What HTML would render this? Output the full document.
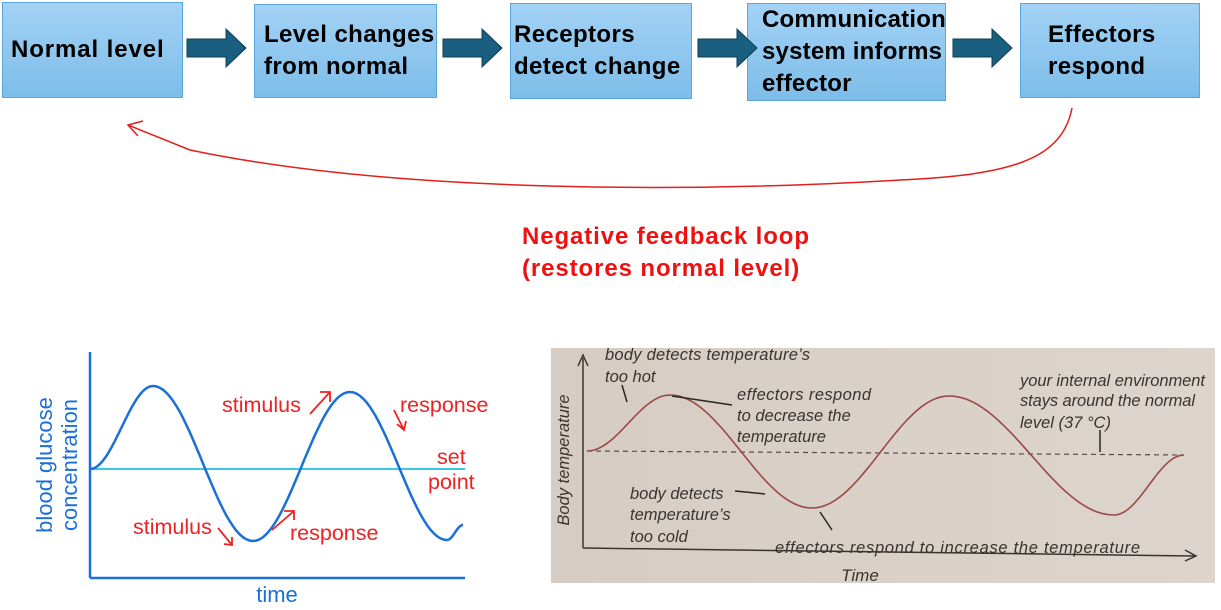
<!DOCTYPE html>
<html><head><meta charset="utf-8"><style>
body{margin:0;width:1221px;height:610px;background:#fff;overflow:hidden;position:relative;font-family:"Liberation Sans",sans-serif}
.box{position:absolute;box-sizing:border-box;border:1.5px solid #5aa7dc;background:linear-gradient(#a3d2f5,#7dbde9);font-weight:bold;font-size:24px;letter-spacing:0.4px;color:#000;line-height:32px;display:flex;align-items:center;padding-left:8px;white-space:nowrap}
svg{position:absolute;left:0;top:0}
</style></head><body>
<div class="box" style="left:2px;top:2px;width:181px;height:96px;letter-spacing:0.9px">Normal level</div>
<div class="box" style="left:254px;top:4px;width:183px;height:94px;padding-left:9px">Level changes<br>from normal</div>
<div class="box" style="left:510px;top:3px;width:182px;height:96px;padding-left:3px">Receptors<br>detect change</div>
<div class="box" style="left:747px;top:3px;width:199px;height:98px;padding-left:14px;letter-spacing:0.2px">Communication<br>system informs<br>effector</div>
<div class="box" style="left:1020px;top:3px;width:180px;height:95px;padding-left:27px">Effectors<br>respond</div>

<svg width="1221" height="610">
<g fill="#1a5f80" stroke="#0e3c52" stroke-width="1">
<polygon points="187,39 226,39 226,29 246,48 226,67 226,57 187,57"/>
<polygon points="443,39 482,39 482,29 502,48 482,67 482,57 443,57"/>
<polygon points="698,39 737,39 737,29 757,48 737,67 737,57 698,57"/>
<polygon points="953,39 992,39 992,29 1012,48 992,67 992,57 953,57"/>
</g>
<path d="M1072,108 C1062,160 1010,175 900,180 C700,192 400,194 190,150 L128,125" fill="none" stroke="#e0201c" stroke-width="1.5"/>
<path d="M143,121 L128,125 L138,136" fill="none" stroke="#e0201c" stroke-width="1.5"/>
<text x="522" y="244" font-size="24" letter-spacing="0.9" font-weight="bold" fill="#ee1111">Negative feedback loop</text>
<text x="522" y="276" font-size="24" letter-spacing="0.9" font-weight="bold" fill="#ee1111">(restores normal level)</text>

<g id="left"></g>
<defs><linearGradient id="bg" x1="0" x2="1"><stop offset="0" stop-color="#d6ccc3"/><stop offset="1" stop-color="#ddd5cd"/></linearGradient></defs>
<rect x="551" y="348" width="664" height="235" fill="url(#bg)"/>
<g id="right"></g>
</svg>
<script>
// Left chart data (blood glucose, relative to set point)
const glucoseTimes=[0,63,163,260,357,373];
const glucoseValues=[0,83,-72,77,-71,-56];
// Right chart data (body temperature relative to 37 °C)
const tempTimes=[0,83,225,362,527,597];
const tempValues=[0,56,-57,55,-64,-4];

const NS="http://www.w3.org/2000/svg";
function el(tag,attrs,parent,txt){const e=document.createElementNS(NS,tag);for(const k in attrs)e.setAttribute(k,attrs[k]);if(txt!==undefined)e.textContent=txt;parent.appendChild(e);return e;}
function cosPath(times,vals,xs,ys){let d="";for(let i=0;i<times.length-1;i++){const n=30;for(let j=0;j<=n;j++){if(i>0&&j===0)continue;const f=j/n,w=(1-Math.cos(Math.PI*f))/2;const t=times[i]+(times[i+1]-times[i])*f;const v=vals[i]+(vals[i+1]-vals[i])*w;d+=(d?"L":"M")+xs(t).toFixed(1)+","+ys(v).toFixed(1);}}return d;}

// LEFT
const L=document.getElementById('left');
const lx=t=>90+t, ly=v=>469-v;
let a=el('line',{x1:90,y1:352,x2:90,y2:578,stroke:'#1a6fd8','stroke-width':2.5},L);

a=el('line',{x1:90,y1:578,x2:465,y2:578,stroke:'#1a6fd8','stroke-width':2.5},L);

a=el('line',{x1:90,y1:ly(0),x2:465,y2:ly(0),stroke:'#3cc8ee','stroke-width':2},L);

a=el('path',{d:cosPath(glucoseTimes,glucoseValues,lx,ly),fill:'none',stroke:'#1a6fd8','stroke-width':2.5},L);

a=el('text',{x:0,y:0,'font-size':22,fill:'#1a6fd8','text-anchor':'middle',transform:'translate(52,465) rotate(-90)'},L,'blood glucose');

a=el('text',{x:0,y:0,'font-size':22,fill:'#1a6fd8','text-anchor':'middle',transform:'translate(77,465) rotate(-90)'},L,'concentration');

a=el('text',{x:277,y:602,'font-size':22,fill:'#1a6fd8','text-anchor':'middle'},L,'time');

const red='#ee2222';
[['stimulus',222,412,'label-stimulus-high'],['response',400,412,'label-response-high'],['set',437,464,'label-set'],['point',428,489,'label-point'],['stimulus',133,534,'label-stimulus-low'],['response',290,540,'label-response-low']].forEach(r=>{
 const t=el('text',{x:r[1],y:r[2],'font-size':21.5,fill:red},L,r[0]);
 
 });
[['M310,414 L330,392 M320,392 L330,392 L330,402','arrow-stimulus-high'],['M394,410 L404,430 M397,424 L404,430 L406,421','arrow-response-high'],['M218,528 L232,545 M224,544 L232,545 L232,537','arrow-stimulus-low'],['M272,530 L294,511 M284,511 L294,511 L294,520','arrow-response-low']].forEach(r=>{
 const p=el('path',{d:r[0],fill:'none',stroke:red,'stroke-width':1.8},L);
 
 });

// RIGHT
const R=document.getElementById('right');
const rx=t=>587+t, ry=v=>451-v;
const ink='#3a3430';
a=el('path',{d:'M583,548 L583,358 M578,366 L583,355 L588,366',fill:'none',stroke:ink,'stroke-width':1.5},R);

a=el('path',{d:'M583,548 L1195,556 M1185,550 L1196,556 L1185,561',fill:'none',stroke:ink,'stroke-width':1.5},R);

a=el('line',{x1:587,y1:ry(0),x2:1183,y2:ry(0)+4,stroke:'#5a4a44','stroke-width':1.2,'stroke-dasharray':'5,4'},R);

a=el('path',{d:cosPath(tempTimes,tempValues,rx,ry),fill:'none',stroke:'#9a4a48','stroke-width':1.6},R);

[["body detects temperature’s",605,360,'note-too-hot-1',205],["too hot",605,382,'note-too-hot-2',0],["effectors respond",737,400,'note-decrease-1',134],["to decrease the",737,421,'note-decrease-2',0],["temperature",737,442,'note-decrease-3',0],["your internal environment",1020,386,'note-normal-1',185],["stays around the normal",1020,406,'note-normal-2',175],["level (37 °C)",1020,428,'note-normal-3',0],["body detects",630,499,'note-too-cold-1',0],["temperature’s",630,520,'note-too-cold-2',0],["too cold",630,542,'note-too-cold-3',0],["effectors respond to increase the temperature",775,553,'note-increase',365]].forEach(r=>{
 const attrs={x:r[1],y:r[2],'font-size':16.5,'font-style':'italic',fill:ink};
 if(r[4])attrs.textLength=r[4];
 const t=el('text',attrs,R,r[0]);
 
 });
a=el('text',{x:860,y:581,'font-size':17,'font-style':'italic',fill:ink,'text-anchor':'middle'},R,'Time');

a=el('text',{x:0,y:0,'font-size':16.5,'font-style':'italic',fill:ink,'text-anchor':'middle',transform:'translate(569,460) rotate(-90)'},R,'Body temperature');

[['M622,385 L627,402','pointer-too-hot'],['M732,405 L672,396','pointer-decrease'],['M735,491 L765,494','pointer-too-cold'],['M832,530 L820,512','pointer-increase'],['M1100,430 L1100,452','pointer-normal']].forEach(r=>{
 const p=el('path',{d:r[0],fill:'none',stroke:'#2a2624','stroke-width':1.5},R);
 
 });
</script>
</body></html>
